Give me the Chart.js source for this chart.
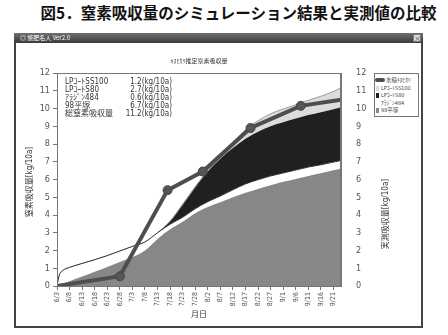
<!DOCTYPE html>
<html lang="ja">
<head>
<meta charset="UTF-8">
<script src="https://cdn.jsdelivr.net/npm/chart.js"></script>
<title>窒素吸収量の比較</title>
<style>
  body { margin: 0; width: 448px; height: 335px; background: #fff; position: relative; overflow: hidden;
         font-family: 'Noto Sans CJK JP', sans-serif; }
  .abs { position: absolute; white-space: nowrap; }
  #title { left: 35px; width: 407px; top: 2px; text-align: center; font-size: 15.5px; font-weight: bold; color: #111; line-height: 20px; }
  #win { left: 14px; top: 33px; width: 409px; height: 295px; border: 2px solid #444; box-sizing: border-box; background: #fff; }
  #bar { left: 14px; top: 33px; width: 409px; height: 10px; background: linear-gradient(#707070, #3a3a3a); }
  #bar span { position: absolute; left: 6px; top: 1px; font-size: 6px; line-height: 8px; color: #fff; }
  #close { left: 413px; top: 34px; width: 8px; height: 8px; background: #ddd; border: 1px solid #777; box-sizing: border-box;
           font-size: 7px; line-height: 6px; text-align: center; color: #333; }
  #chart { left: 0; top: 0; z-index: 2; }
  .txt { z-index: 3; color: #333; font-family: 'Liberation Sans Narrow', 'DejaVu Sans Condensed', 'Noto Sans CJK JP', sans-serif; }
  #legend { left: 374px; top: 73px; width: 45px; height: 44px; border: 1px solid #777; box-sizing: border-box; background: #fff; z-index: 3; }
</style>
</head>
<body>
<div id="title" class="abs">図5．窒素吸収量のシミュレーション結果と実測値の比較</div>
<div id="win" class="abs"></div>
<div id="bar" class="abs"><span>◎ 施肥名人 Ver2.0</span></div>
<div id="close" class="abs">×</div>
<canvas id="chart" class="abs" width="448" height="335"></canvas>
<div id="legend" class="abs"></div>

<script>
    // days counted from 6/3
    const dateLabels = ['6/3', '6/8', '6/13', '6/18', '6/23', '6/28', '7/3', '7/8', '7/13', '7/18', '7/23', '7/28',
        '8/2', '8/7', '8/12', '8/17', '8/22', '8/27', '9/1', '9/6', '9/11', '9/16', '9/21'];
    const days = [0, 1, 2, 3, 5, 10, 15, 20, 25, 30, 35, 40, 45, 50, 55, 60, 65, 70, 75, 80, 85, 90, 95, 100, 105, 110, 113];

    // simulated uptake per fertilizer (stacked, kg/10a)
    const hiratsuka = [0, 0.05, 0.11, 0.16, 0.27, 0.53, 0.8, 1.07, 1.35, 1.63, 2.0, 2.65, 3.2, 3.62, 4.1, 4.45, 4.72, 5.0, 5.25, 5.47, 5.68, 5.87, 6.03, 6.2, 6.35, 6.52, 6.62];
    const aladdin = [0, 0.6, 0.72, 0.78, 0.78, 0.74, 0.68, 0.64, 0.62, 0.6, 0.48, 0.35, 0.28, 0.25, 0.25, 0.3, 0.35, 0.42, 0.5, 0.52, 0.52, 0.5, 0.5, 0.5, 0.48, 0.46, 0.45];
    const lpS80 = [0, 0, 0, 0, 0, 0, 0, 0, 0, 0, 0, 0, 0.15, 0.7, 1.2, 1.7, 2.1, 2.35, 2.55, 2.7, 2.8, 2.85, 2.9, 2.93, 2.96, 2.98, 3.0];
    const lpSS100 = [0, 0, 0, 0, 0, 0, 0, 0, 0, 0, 0, 0, 0.03, 0.04, 0.05, 0.05, 0.15, 0.3, 0.5, 0.62, 0.7, 0.75, 0.78, 0.83, 0.9, 1.0, 1.1];

    // measured uptake (キヌヒカリ)
    const measuredDays = [0, 25, 44, 58, 77, 97, 113];
    const measured = [0, 0.55, 5.4, 6.45, 8.9, 10.15, 10.5];

    const yTicks = [0, 1, 2, 3, 4, 5, 6, 7, 8, 9, 10, 11, 12];

    const boxLabels = ['LPｺｰﾄSS100', 'LPｺｰﾄS80', 'ｱﾗｼﾞﾝ484', '98平塚', '総窒素吸収量'];
    const boxValues = ['1.2', '2.7', '0.6', '6.7', '11.2'];

    const seriesNames = ['水稲ｷﾇﾋｶﾘ', 'LPｺｰﾄSS100', 'LPｺｰﾄS80', 'ｱﾗｼﾞﾝ484', '98平塚'];
    const seriesColors = ['#4e4e4e', '#dcdcdc', '#202020', '#ffffff', '#878787'];

    const narrow = "'Liberation Sans Narrow', 'DejaVu Sans Condensed', 'Noto Sans CJK JP', sans-serif";
    const pts = arr => arr.map((v, i) => ({x: days[i], y: v}));

    function addText(txt, left, top, size, extra) {
        const d = document.createElement('div');
        d.className = 'abs txt';
        d.textContent = txt;
        d.style.left = left + 'px';
        d.style.top = top + 'px';
        d.style.fontSize = size + 'px';
        d.style.lineHeight = size + 'px';
        if (extra) Object.assign(d.style, extra);
        document.body.appendChild(d);
        return d;
    }

    // draws the box around the plot area
    const frame = {
        id: 'frame',
        afterDraw(chart) {
            const a = chart.chartArea, c = chart.ctx;
            c.save();
            c.strokeStyle = '#777';
            c.lineWidth = 1;
            c.strokeRect(a.left + 0.5, a.top + 0.5, a.right - a.left - 1, a.bottom - a.top);
            c.restore();
        }
    };

    new Chart(document.getElementById('chart'), {
        type: 'line',
        data: {
            datasets: [
                {
                    label: seriesNames[0], yAxisID: 'y2',
                    data: measured.map((v, i) => ({x: measuredDays[i], y: v})),
                    borderColor: seriesColors[0], backgroundColor: seriesColors[0], borderWidth: 4,
                    pointRadius: measured.map((v, i) => (i === 0 || i === measured.length - 1) ? 0 : 4.5),
                    pointBorderWidth: 1, pointBorderColor: '#444', pointBackgroundColor: '#555',
                    fill: false, tension: 0
                },
                {
                    label: seriesNames[4], data: pts(hiratsuka), fill: 'origin',
                    backgroundColor: seriesColors[4], borderWidth: 0, pointRadius: 0, cubicInterpolationMode: 'monotone'
                },
                {
                    label: seriesNames[3], data: pts(aladdin), fill: '-1',
                    backgroundColor: seriesColors[3], borderColor: '#333', borderWidth: 1, pointRadius: 0, cubicInterpolationMode: 'monotone'
                },
                {
                    label: seriesNames[2], data: pts(lpS80), fill: '-1',
                    backgroundColor: seriesColors[2], borderColor: seriesColors[2], borderWidth: 0, pointRadius: 0, cubicInterpolationMode: 'monotone'
                },
                {
                    label: seriesNames[1], data: pts(lpSS100), fill: '-1',
                    backgroundColor: seriesColors[1], borderColor: '#999', borderWidth: 1, pointRadius: 0, cubicInterpolationMode: 'monotone'
                }
            ]
        },
        options: {
            responsive: false,
            animation: false,
            layout: {padding: {left: 0, right: 0, top: 73, bottom: 0}},
            plugins: {legend: {display: false}, tooltip: {enabled: false}},
            scales: {
                x: {
                    type: 'linear', min: 0, max: 113,
                    afterBuildTicks: s => { s.ticks = dateLabels.map((l, i) => ({value: i * 5})); },
                    afterFit: s => { s.height = 49; },
                    ticks: {
                        autoSkip: false, minRotation: 90, maxRotation: 90, padding: 2, color: '#555',
                        font: {size: 7, family: narrow},
                        callback: (v) => dateLabels[Math.round(v / 5)]
                    },
                    grid: {drawOnChartArea: false, tickLength: 4, color: '#777'},
                    border: {color: '#777'}
                },
                y: {
                    stacked: true, min: 0, max: 12,
                    afterBuildTicks: s => { s.ticks = yTicks.map(v => ({value: v})); },
                    afterFit: s => { s.width = 57; },
                    ticks: {padding: 3, color: '#555', font: {size: 9, family: narrow}},
                    grid: {drawOnChartArea: false, tickLength: 4, color: '#777'},
                    border: {color: '#777'}
                },
                y2: {
                    position: 'right', min: 0, max: 12,
                    afterBuildTicks: s => { s.ticks = yTicks.map(v => ({value: v})); },
                    afterFit: s => { s.width = 107; },
                    ticks: {padding: 15, color: '#555', font: {size: 9, family: narrow}},
                    grid: {display: false, drawTicks: false},
                    border: {color: '#777'}
                }
            }
        },
        plugins: [frame]
    });

    // inner chart title and axis titles
    addText('ｷﾇﾋｶﾘ推定窒素吸収量', 150, 58, 6, {width: '98px', textAlign: 'center', fontFamily: "'Noto Sans CJK JP', sans-serif"});
    addText('月日', 191, 310, 8, {fontFamily: "'Noto Sans CJK JP', sans-serif"});
    addText('窒素吸収量[kg/10a]', -10, 178, 8, {width: '80px', textAlign: 'center', transform: 'rotate(-90deg)'});
    addText('実測吸収量[kg/10a]', 346, 210, 8, {width: '80px', textAlign: 'center', transform: 'rotate(-90deg)'});

    // summary box in the plot
    boxLabels.forEach((l, i) => {
        const top = 78 + i * 8.1;
        addText(l, 65, top, 8);
        addText(boxValues[i] + '(kg/10a)', 120, top, 8, {width: '52px', textAlign: 'right'});
    });

    // legend
    const legend = document.getElementById('legend');
    seriesNames.forEach((name, i) => {
        const row = document.createElement('div');
        row.className = 'abs txt';
        row.style.left = '1px';
        row.style.top = (3 + i * 7.6) + 'px';
        row.style.fontSize = '5.5px';
        row.style.lineHeight = '6px';
        row.style.color = '#444';
        let sw;
        if (i === 0) {
            sw = '<span style="display:inline-block;width:8px;height:2px;background:' + seriesColors[0] + ';vertical-align:middle;margin-right:2px;border-radius:1px;box-shadow:0 0 0 1px ' + seriesColors[0] + '"></span>';
        } else {
            sw = '<span style="display:inline-block;width:3px;height:5px;background:' + seriesColors[i] + ';vertical-align:middle;margin-right:2px"></span>';
        }
        row.innerHTML = sw + name;
        legend.appendChild(row);
    });
</script>
</body>
</html>
